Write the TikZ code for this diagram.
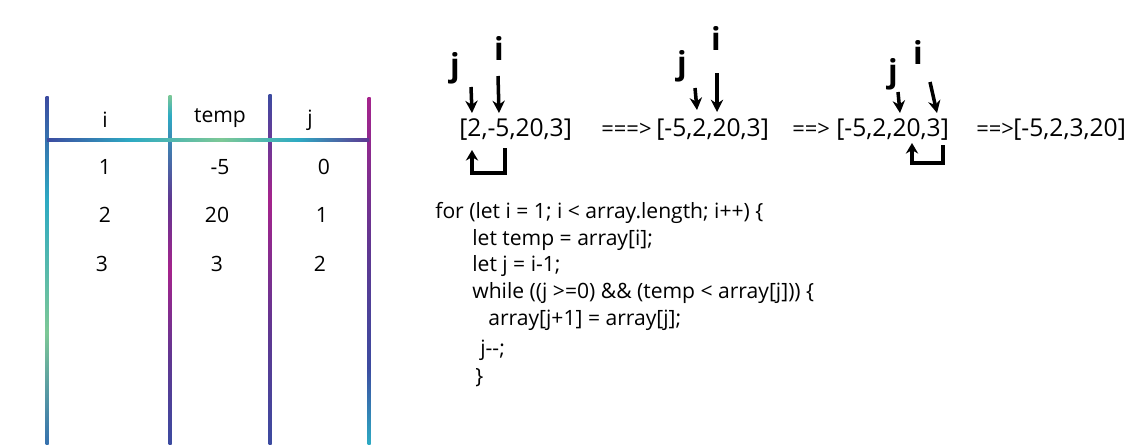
\documentclass[tikz,border=0pt]{standalone}
\usepackage{fontspec}
\setmainfont{Open Sans}
\usetikzlibrary{arrows.meta}

% glitter colours of the table
\definecolor{gblue}{RGB}{60,75,160}
\definecolor{gteal}{RGB}{45,170,195}
\definecolor{ggreen}{RGB}{125,200,150}
\definecolor{gpurple}{RGB}{95,55,145}
\definecolor{gmagenta}{RGB}{165,35,140}
\colorlet{gblueteal}{gblue!60!gteal}

\pgfdeclareverticalshading{lineA}{100bp}{color(0bp)=(gblueteal); color(25bp)=(gblueteal); color(41bp)=(ggreen); color(60bp)=(gteal); color(75bp)=(gblue); color(100bp)=(gblue)}
\pgfdeclareverticalshading{lineB}{100bp}{color(0bp)=(gblue); color(25bp)=(gblue); color(37bp)=(gpurple); color(50bp)=(gmagenta); color(60bp)=(gpurple); color(72bp)=(gteal); color(75bp)=(ggreen); color(100bp)=(ggreen)}
\pgfdeclareverticalshading{lineC}{100bp}{color(0bp)=(gblue); color(25bp)=(gblue); color(41bp)=(gpurple); color(60bp)=(gmagenta); color(75bp)=(gblue); color(100bp)=(gblue)}
\pgfdeclareverticalshading{lineD}{100bp}{color(0bp)=(gteal); color(25bp)=(gteal); color(36bp)=(gblue); color(53bp)=(gpurple); color(75bp)=(gmagenta); color(100bp)=(gmagenta)}
\pgfdeclarehorizontalshading{lineH}{100bp}{color(0bp)=(gblue); color(25bp)=(gblue); color(38bp)=(gteal); color(52bp)=(ggreen); color(64bp)=(gteal); color(75bp)=(gpurple); color(100bp)=(gpurple)}

\tikzset{
  cell/.style={font=\fontsize{12}{12}\selectfont},
  arr/.style={anchor=west, inner sep=0pt, font=\fontsize{14}{14}\selectfont},
  goes/.style={anchor=west, inner sep=0pt, font=\fontsize{12.5}{12.5}\selectfont},
  code/.style={anchor=west, inner sep=0pt, font=\fontsize{12}{14}\selectfont},
  lbl/.style={inner sep=0pt, font=\fontsize{18}{18}\selectfont\bfseries},
  ptr/.style={line width=2pt, -{Stealth[length=7pt,width=7pt]}},
  swap/.style={line width=2pt, -{Stealth[length=6pt,width=7pt]}},
}

\begin{document}
\begin{tikzpicture}[x=0.02cm, y=-0.02cm]
\useasboundingbox (0,0) rectangle (1138,444);

% table
\shade[shading=lineA] (45.5,96) rectangle (48.5,444);
\shade[shading=lineB] (168.5,95) rectangle (171.5,444);
\shade[shading=lineC] (268.5,94) rectangle (271.5,444);
\shade[shading=lineD] (367.5,97) rectangle (370.5,444);
\shade[shading=lineH] (47,138.5) rectangle (369,141.5);

\node[cell] (hI) at (105,120) {i};
\node[cell] (hTemp) at (220,118) {temp};
\node[cell] (hJ) at (310,120) {j};
\node[cell] (iOne) at (105,167) {1};
\node[cell] (tOne) at (220,167) {-5};
\node[cell] (jOne) at (324,167) {0};
\node[cell] (iTwo) at (105,215) {2};
\node[cell] (tTwo) at (217,215) {20};
\node[cell] (jTwo) at (322,215) {1};
\node[cell] (iThree) at (102,264) {3};
\node[cell] (tThree) at (217,264) {3};
\node[cell] (jThree) at (320,264) {2};

% arrays
\node[arr] (arrA) at (459,130) {[2,-5,20,3]};
\node[goes] (goA) at (601,130) {===>};
\node[arr] (arrB) at (656,130) {[-5,2,20,3]};
\node[goes] (goB) at (792,130) {==>};
\node[arr] (arrC) at (836,130) {[-5,2,20,3]};
\node[goes] (goC) at (976,130) {==>};
\node[arr] (arrD) at (1013,130) {[-5,2,3,20]};

% pointers, step one
\node[lbl] (jA) at (455,68) {j};
\node[lbl] (iA) at (499,48) {i};
\coordinate (jAs) at (471,87);
\coordinate (jAe) at (472,113);
\coordinate (iAs) at (498,76);
\coordinate (iAe) at (499,113);
\draw[ptr] (jAs) -- (jAe);
\draw[ptr] (iAs) -- (iAe);
\coordinate (swAs) at (505,148);
\coordinate (swAe) at (472,150);
\draw[swap] (swAs) -- (505,173) -- (472,173) -- (swAe);

% pointers, step two
\node[lbl] (jB) at (682,66) {j};
\node[lbl] (iB) at (716,38) {i};
\coordinate (jBs) at (695,88);
\coordinate (jBe) at (697,110);
\coordinate (iBs) at (717,73);
\coordinate (iBe) at (717,112);
\draw[ptr] (jBs) -- (jBe);
\draw[ptr] (iBs) -- (iBe);

% pointers, step three
\node[lbl] (jC) at (893,74) {j};
\node[lbl] (iC) at (918,52) {i};
\coordinate (jCs) at (898,92);
\coordinate (jCe) at (900,113);
\coordinate (iCs) at (930,82);
\coordinate (iCe) at (937,113);
\draw[ptr] (jCs) -- (jCe);
\draw[ptr] (iCs) -- (iCe);
\coordinate (swCs) at (943,145);
\coordinate (swCe) at (912,143);
\draw[swap] (swCs) -- (943,163) -- (912,163) -- (swCe);

% code
\node[code] (codeA) at (435,213) {for (let i = 1; i < array.length; i++) \{};
\node[code] (codeB) at (472,240) {let temp = array[i];};
\node[code] (codeC) at (472,266) {let j = i-1;};
\node[code] (codeD) at (472,293) {while ((j >=0) \&\& (temp < array[j])) \{};
\node[code] (codeE) at (488,320) {array[j+1] = array[j];};
\node[code] (codeF) at (480,350) {j-{}-;};
\node[code] (codeG) at (475,378) {\}};
\end{tikzpicture}
\end{document}
